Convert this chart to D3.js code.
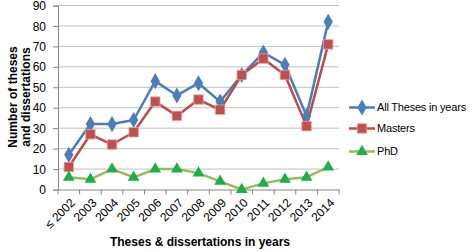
<!DOCTYPE html>
<html><head><meta charset="utf-8">
<script src="https://cdn.jsdelivr.net/npm/d3@7/dist/d3.min.js"></script>
<style>body{margin:0;background:#fff}svg{display:block}</style>
</head><body>
<svg id="c" width="472" height="251"></svg>
<script>
const categories = ["≤ 2002","2003","2004","2005","2006","2007","2008","2009","2010","2011","2012","2013","2014"];
const allTheses = [17,32,32,34,53,46,52,43,56,67,61,36,82];
const masters = [11,27,22,28,43,36,44,39,56,64,56,31,71];
const phd = [6,5,10,6,10,10,8,4,0,3,5,6,11];
const yTicks = [0,10,20,30,40,50,60,70,80,90];
const seriesNames = ["All Theses in  years","Masters","PhD"];

const svg = d3.select("#c");
const font = "'Liberation Sans', Arial, sans-serif";
const m = {l:58, r:339, t:5.5, b:189.5};
const x = d3.scaleBand().domain(categories).range([m.l, m.r]);
const y = d3.scaleLinear().domain([0,90]).range([m.b, m.t]);

// gridlines
svg.append("g").selectAll("line").data(yTicks.filter(d=>d>0)).join("line")
  .attr("x1", m.l).attr("x2", m.r).attr("y1", d=>y(d)).attr("y2", d=>y(d))
  .attr("stroke", "#c0c0c0").attr("stroke-width", 1);

// y axis
const ya = svg.append("g").attr("transform", `translate(${m.l},0)`)
  .call(d3.axisLeft(y).tickValues(yTicks).tickSize(5).tickPadding(7));
ya.select(".domain").attr("stroke", "#868686");
ya.selectAll(".tick line").attr("stroke", "#868686");
ya.selectAll("text").attr("font-family", font).attr("font-size", 12).attr("fill", "#000").attr("dy","0.34em");

// x axis
const xa = svg.append("g").attr("transform", `translate(0,${m.b})`)
  .call(d3.axisBottom(x).tickSize(0).tickPadding(0));
xa.select(".domain").attr("stroke", "#868686");
xa.selectAll(".tick text").remove();
const bounds = categories.map(c=>x(c)).concat([m.r]);
xa.append("g").selectAll("line").data(bounds).join("line")
  .attr("x1", d=>d).attr("x2", d=>d).attr("y1", 0).attr("y2", 5).attr("stroke", "#868686");
xa.append("g").selectAll("text").data(categories).join("text")
  .attr("transform", d=>`translate(${x(d)+x.bandwidth()/2+4},${11}) rotate(-45)`)
  .attr("text-anchor", "end").attr("dy", "0.35em")
  .attr("font-family", font).attr("font-size", 12).attr("fill", "#000")
  .text(d=>d);

// series
const cx = (d,i) => x(categories[i]) + x.bandwidth()/2;
const line = d3.line().x((d,i)=>cx(d,i)).y(d=>y(d));
const series = [
  {name: seriesNames[0], data: allTheses, stroke:"#4a7ebb", fill:"#4a7ebb", sym:d3.symbolDiamond, size:75},
  {name: seriesNames[1], data: masters, stroke:"#be4b48", fill:"#c0504d", sym:d3.symbolSquare, size:90, mstroke:"#e6a5a3"},
  {name: seriesNames[2], data: phd, stroke:"#9bbb59", fill:"#1eae4a", sym:d3.symbolTriangle, size:60}
];
series.forEach(s=>{
  svg.append("path").datum(s.data).attr("d", line)
    .attr("fill","none").attr("stroke", s.stroke).attr("stroke-width", 2.5).attr("stroke-linejoin","round");
});
series.forEach(s=>{
  svg.append("g").selectAll("path").data(s.data).join("path")
    .attr("transform",(d,i)=>`translate(${cx(d,i)},${y(d)})`)
    .attr("d", d3.symbol().type(s.sym).size(s.size))
    .attr("fill", s.fill).attr("stroke", s.mstroke||"none").attr("stroke-width", 0.8);
});

// legend
const lg = svg.append("g");
const rowsY = [107.5, 128.5, 151.5];
series.forEach((s,i)=>{
  const g = lg.append("g").attr("transform", `translate(349,${rowsY[i]})`);
  g.append("line").attr("x1",0).attr("x2",26).attr("stroke", s.stroke).attr("stroke-width",2.5);
  g.append("path").attr("transform","translate(13,0)").attr("d", d3.symbol().type(s.sym).size(s.size))
    .attr("fill", s.fill).attr("stroke", s.mstroke||"none").attr("stroke-width",0.8);
  g.append("text").attr("x", 28).attr("dy","0.35em").attr("font-family", font)
    .attr("font-size", 11).attr("letter-spacing", -0.2).attr("fill","#000").text(s.name);
});

// titles
svg.append("text").attr("transform","translate(17,97) rotate(-90)").attr("text-anchor","middle")
  .attr("font-family", font).attr("font-size", 12).attr("font-weight","bold").text("Number of theses");
svg.append("text").attr("transform","translate(30,97) rotate(-90)").attr("text-anchor","middle")
  .attr("font-family", font).attr("font-size", 12).attr("font-weight","bold").text("and dissertations");
svg.append("text").attr("x", 200).attr("y", 246).attr("text-anchor","middle")
  .attr("font-family", font).attr("font-size", 12).attr("font-weight","bold").text("Theses & dissertations in years");
</script>
</body></html>
